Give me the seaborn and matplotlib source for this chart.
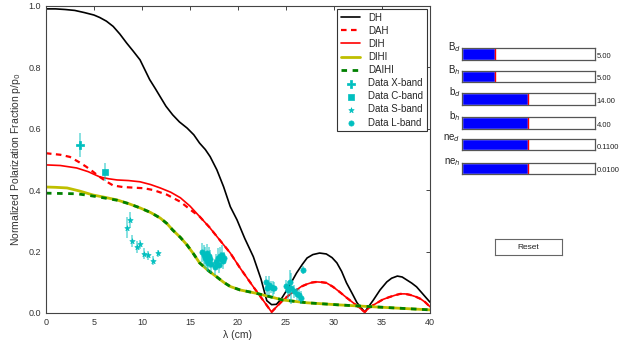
import matplotlib
matplotlib.use("Agg")
import matplotlib.pyplot as plt
import seaborn as sns

# model curves (lambda in cm, normalized fraction)
dh_x = [0, 1, 2, 3, 4, 5, 5.6, 6.3, 7, 7.7, 8.4, 9.1, 9.8, 10.3, 10.8, 11.4, 11.9, 12.5, 13.2,
        13.9, 14.7, 15.4, 16, 16.6, 17.1, 17.8, 18.5, 19.2, 19.9, 20.7, 21.6, 22.4, 23.0,
        23.5, 24.0, 24.5, 25.1, 25.6, 26.1, 26.7, 27.2, 27.8, 28.5, 29.2, 29.8, 30.3, 30.8,
        31.3, 31.9, 32.4, 33.2, 34.1, 34.8, 35.5, 36.0, 36.6, 37.1, 37.6, 38.1, 38.6, 39.3, 40]
dh_y = [0.99, 0.99, 0.988, 0.985, 0.978, 0.97, 0.962, 0.95, 0.933, 0.908, 0.879, 0.852, 0.824,
        0.792, 0.76, 0.73, 0.704, 0.673, 0.645, 0.622, 0.602, 0.58, 0.553, 0.532, 0.509,
        0.466, 0.411, 0.346, 0.303, 0.243, 0.183, 0.11, 0.04, 0.027, 0.028, 0.045, 0.075,
        0.102, 0.13, 0.158, 0.179, 0.19, 0.195, 0.192, 0.18, 0.163, 0.135, 0.098, 0.063,
        0.033, 0.003, 0.042, 0.075, 0.101, 0.113, 0.12, 0.117, 0.107, 0.097, 0.085, 0.06,
        0.035]

dih_x = [0, 1.5, 3.2, 4.4, 5.6, 6.5, 7.4, 8.6, 9.8, 10.9, 11.9, 13, 14, 15, 16, 17, 17.8,
         18.5, 19.2, 20.2, 21.6, 22.6, 23.5, 24.7, 25.4, 26.1, 26.6, 27.2, 27.7, 28.2, 28.7,
         29.2, 29.9, 30.6, 31.3, 32, 33.2, 33.8, 34.5, 35.1, 35.8, 36.4, 36.9, 37.4, 37.9,
         38.5, 39, 39.5, 40]
dih_y = [0.482, 0.48, 0.472, 0.46, 0.443, 0.437, 0.433, 0.431, 0.427, 0.418, 0.407, 0.393,
         0.375, 0.348, 0.314, 0.28, 0.249, 0.222, 0.195, 0.147, 0.085, 0.042, 0.003, 0.042,
         0.06, 0.075, 0.086, 0.094, 0.099, 0.101, 0.1, 0.098, 0.085, 0.068, 0.05, 0.033,
         0.003, 0.02, 0.033, 0.044, 0.052, 0.058, 0.062, 0.062, 0.059, 0.053, 0.046, 0.035,
         0.02]

dah_x = [0, 1.5, 2.5, 3.5, 4.2, 4.9, 5.5, 6.3, 7.0, 8.0, 9.1, 10.2, 11.2, 12.6, 14, 15.3, 16,
         17, 17.8, 18.5, 19.2, 20.2, 21.6, 22.6, 23.5, 24.7, 25.4, 26.1, 26.6, 27.2, 27.7,
         28.2, 28.7, 29.2, 29.9, 30.6, 31.3, 32, 33.2, 33.8, 34.5, 35.1, 35.8, 36.4, 36.9,
         37.4, 37.9, 38.5, 39, 39.5, 40]
dah_y = [0.52, 0.515, 0.508, 0.49, 0.476, 0.46, 0.445, 0.428, 0.415, 0.41, 0.408, 0.406,
         0.40, 0.385, 0.362, 0.33, 0.314, 0.28, 0.249, 0.222, 0.195, 0.147, 0.085, 0.042,
         0.003, 0.042, 0.06, 0.075, 0.086, 0.094, 0.099, 0.101, 0.1, 0.098, 0.085, 0.068,
         0.05, 0.033, 0.003, 0.02, 0.033, 0.044, 0.052, 0.058, 0.062, 0.062, 0.059, 0.053,
         0.046, 0.035, 0.02]

dihi_x = [0, 1, 2.2, 3.5, 4.9, 6.2, 7.4, 8.6, 9.8, 10.9, 11.9, 12.6, 13.2, 14, 14.7, 15.4, 16,
          16.9, 17.8, 18.5, 19.2, 20.2, 21.9, 23.3, 24.7, 27.2, 30.6, 34.1, 37, 40]
dihi_y = [0.41, 0.409, 0.407, 0.397, 0.384, 0.376, 0.368, 0.356, 0.342, 0.327, 0.309, 0.291,
          0.27, 0.246, 0.221, 0.191, 0.163, 0.138, 0.117, 0.1, 0.086, 0.075, 0.064, 0.053,
          0.042, 0.033, 0.026, 0.02, 0.015, 0.01]

daihi_x = [0, 1.5, 3.2, 4.4, 5.6, 6.5, 7.4, 8.6, 9.8, 10.9, 11.9, 12.6, 13.2, 14, 14.7, 15.4,
           16, 16.9, 17.8, 18.5, 19.2, 20.2, 21.9, 23.3, 24.7, 27.2, 30.6, 34.1, 37, 40]
daihi_y = [0.39, 0.389, 0.388, 0.383, 0.377, 0.372, 0.367, 0.356, 0.342, 0.327, 0.309, 0.291,
           0.27, 0.246, 0.221, 0.191, 0.163, 0.138, 0.117, 0.1, 0.086, 0.075, 0.064, 0.053,
           0.042, 0.033, 0.026, 0.02, 0.015, 0.01]

# observed points
x_lam = [3.55]
x_val = [0.547]
x_err = [0.04]

c_lam = [6.15]
c_val = [0.459]
c_err = [0.03]

s_lam = [8.4, 8.75, 9.0, 9.45, 9.8, 10.2, 10.65, 11.1, 11.7]
s_val = [0.278, 0.303, 0.234, 0.215, 0.224, 0.193, 0.187, 0.17, 0.194]
s_err = [0.033, 0.025, 0.02, 0.02, 0.015, 0.018, 0.015, 0.015, 0.012]

l_lam = [16.3, 16.5, 16.6, 16.75, 16.8, 16.9, 17.0, 17.1, 17.2, 17.6, 17.7, 17.9, 18.0, 18.1,
         18.2, 18.3, 18.4, 18.5, 22.9, 23.0, 23.2, 23.4, 23.6, 23.8, 25.0, 25.2, 25.4, 25.5,
         25.8, 26.1, 26.4, 26.6, 26.8]
l_val = [0.197, 0.19, 0.18, 0.195, 0.17, 0.162, 0.185, 0.175, 0.16, 0.15, 0.167, 0.18, 0.155,
         0.185, 0.175, 0.19, 0.168, 0.18, 0.10, 0.08, 0.09, 0.085, 0.08, 0.082, 0.088, 0.075,
         0.10, 0.08, 0.07, 0.062, 0.058, 0.05, 0.14]
l_err = [0.03, 0.03, 0.035, 0.03, 0.03, 0.03, 0.03, 0.03, 0.03, 0.025, 0.025, 0.03, 0.025,
         0.03, 0.025, 0.03, 0.025, 0.02, 0.02, 0.02, 0.03, 0.02, 0.025, 0.02, 0.02, 0.03,
         0.04, 0.05, 0.02, 0.02, 0.02, 0.02, 0.012]

# slider widgets on the right
slider_labels = ["B$_d$", "B$_h$", "b$_d$", "b$_h$", "ne$_d$", "ne$_h$"]
slider_vals = [5.0, 5.0, 14.0, 4.0, 0.11, 0.01]
slider_max = [20.0, 20.0, 28.0, 8.0, 0.22, 0.02]
slider_fmt = ["%.2f", "%.2f", "%.2f", "%.2f", "%.4f", "%.4f"]

sns.set_style("white")
plt.rcParams["font.family"] = ["Liberation Sans", "DejaVu Sans"]
plt.rcParams["xtick.direction"] = "in"
plt.rcParams["ytick.direction"] = "in"

fig = plt.figure(figsize=(6.38, 3.42), dpi=100)
ax = fig.add_axes([0.072, 0.085, 0.602, 0.898])

sns.lineplot(x=dh_x, y=dh_y, ax=ax, color="k", lw=1.2, sort=False, label="DH")
sns.lineplot(x=dah_x, y=dah_y, ax=ax, color="r", lw=1.6, sort=False, label="DAH",
             linestyle=(0, (2.5, 2)))
sns.lineplot(x=dih_x, y=dih_y, ax=ax, color="r", lw=1.2, sort=False, label="DIH")
sns.lineplot(x=dihi_x, y=dihi_y, ax=ax, color="y", lw=2.0, sort=False, label="DIHI")
sns.lineplot(x=daihi_x, y=daihi_y, ax=ax, color="g", lw=2.0, sort=False, label="DAIHI",
             linestyle=(0, (2, 2)))

groups = [(x_lam, x_val, x_err, "P", 30, "Data X-band"),
          (c_lam, c_val, c_err, "s", 18, "Data C-band"),
          (s_lam, s_val, s_err, "*", 16, "Data S-band"),
          (l_lam, l_val, l_err, "o", 14, "Data L-band")]
for lam, val, err, mk, sz, lab in groups:
    ax.errorbar(lam, val, yerr=err, fmt="none", ecolor="c", alpha=0.55, elinewidth=1.2)
    sns.scatterplot(x=lam, y=val, ax=ax, color="c", marker=mk, s=sz, edgecolor="c",
                    linewidth=0.5, label=lab, zorder=3)

ax.set_xlim(0, 40)
ax.set_ylim(0, 1.0)
ax.set_xticks(range(0, 41, 5))
ax.set_yticks([0.0, 0.2, 0.4, 0.6, 0.8, 1.0])
ax.set_yticklabels(["0.0", "0.2", "0.4", "0.6", "0.8", "1.0"])
ax.tick_params(labelsize=6.5, labelcolor="#333333", length=3, width=0.6,
               top=True, right=True)
for sp in ax.spines.values():
    sp.set_color("#444444")
    sp.set_linewidth(0.8)
ax.set_xlabel("λ (cm)", fontsize=7.5, color="#333333", labelpad=2)
ax.set_ylabel("Normalized Polarization Fraction p/p$_0$", fontsize=7.5, color="#333333",
              labelpad=4)

leg = ax.legend(loc="upper right", fontsize=7, fancybox=False, edgecolor="#333333",
                framealpha=1, borderaxespad=0.3, handlelength=2.0, labelspacing=0.32,
                borderpad=0.4)
leg.get_frame().set_linewidth(0.8)

# sliders
row_bottoms = [0.826, 0.759, 0.694, 0.624, 0.560, 0.490]
for lab, val, vmax, fmt, b in zip(slider_labels, slider_vals, slider_max, slider_fmt,
                                  row_bottoms):
    sax = fig.add_axes([0.724, b, 0.2085, 0.0336])
    sax.barh([0], [val], height=1.0, color="b", left=0)
    sax.axvline(val, color="r", lw=1)
    sax.set_xlim(0, vmax)
    sax.set_ylim(-0.5, 0.5)
    sax.set_xticks([])
    sax.set_yticks([])
    for sp in sax.spines.values():
        sp.set_color("#555555")
        sp.set_linewidth(0.9)
    sax.text(-0.01, 1.05, lab, transform=sax.transAxes, ha="right", va="center",
             fontsize=7, color="#222222")
    sax.text(1.015, 0.3, fmt % val, transform=sax.transAxes, ha="left", va="center",
             fontsize=5.5, color="#222222")

# reset button
bax = fig.add_axes([0.776, 0.254, 0.105, 0.047])
bax.set_xticks([])
bax.set_yticks([])
for sp in bax.spines.values():
    sp.set_color("#666666")
    sp.set_linewidth(0.8)
bax.text(0.5, 0.5, "Reset", transform=bax.transAxes, ha="center", va="center",
         fontsize=6, color="#222222")

fig.savefig("out.png", dpi=100)
